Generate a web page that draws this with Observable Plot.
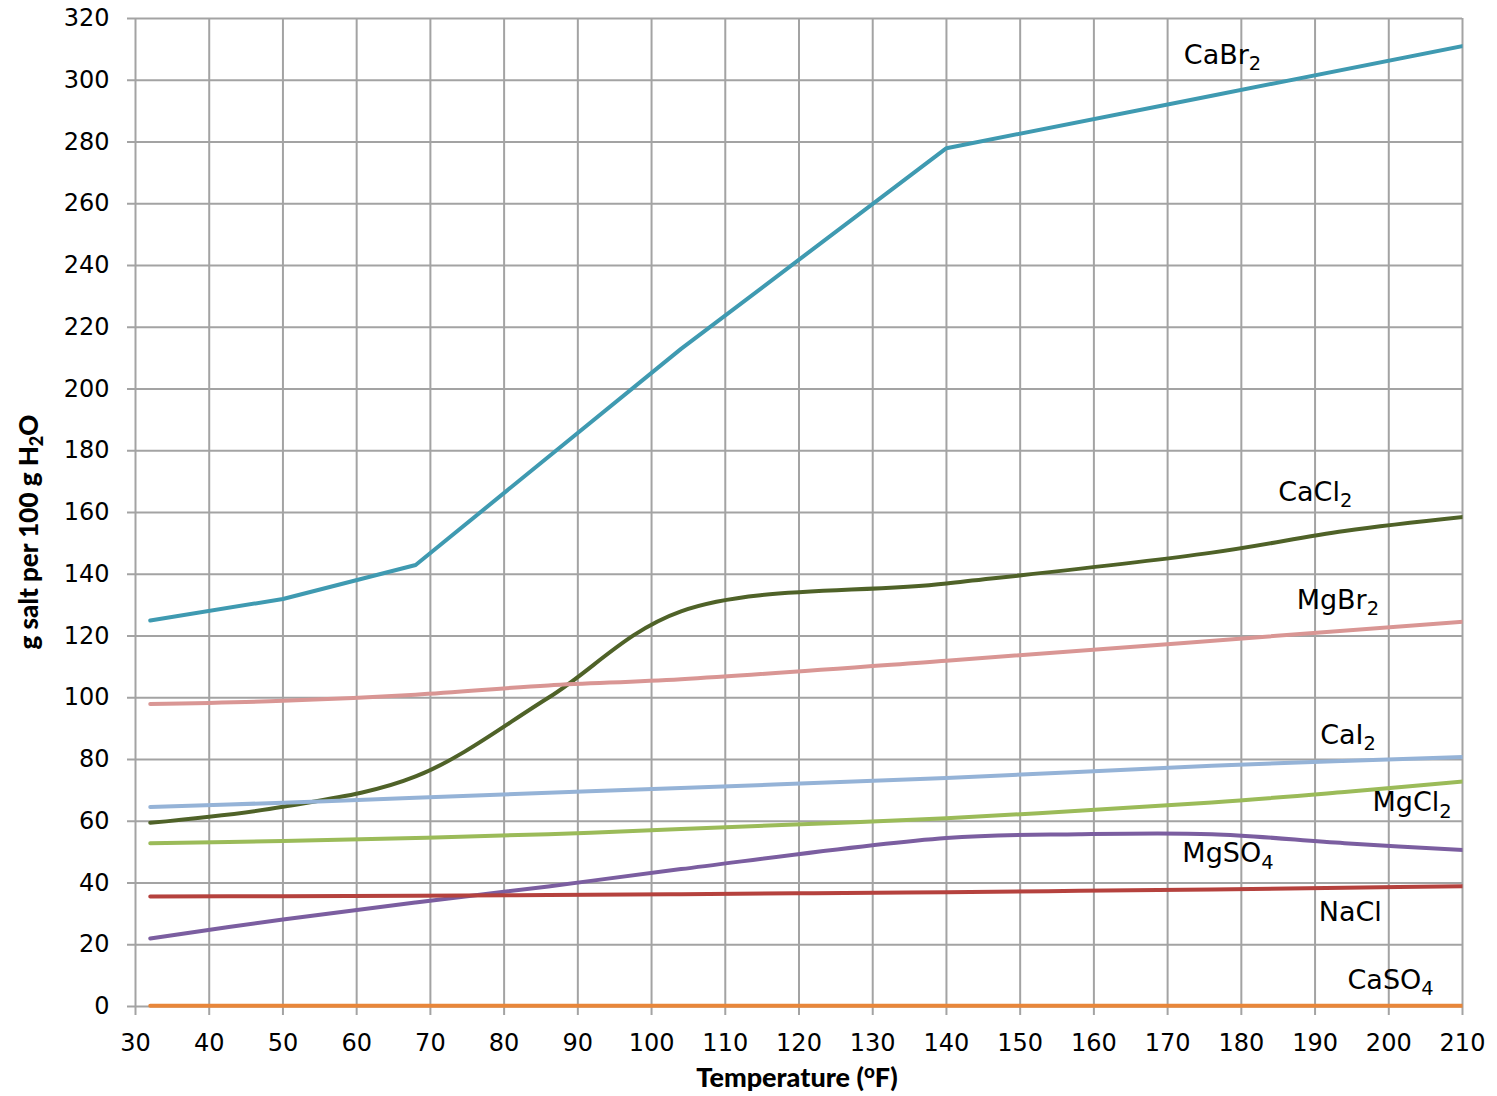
<!DOCTYPE html>
<html>
<head>
<meta charset="utf-8">
<script src="https://cdn.jsdelivr.net/npm/d3@7"></script>
<script src="https://cdn.jsdelivr.net/npm/@observablehq/plot@0.6"></script>
<style>
  body { margin: 0; background: #fff; }
  #chart svg { display: block; }
</style>
</head>
<body>
<div id="chart"></div>
<script>
// Solubility of salts in water (g salt per 100 g H2O), sampled every 10 °C (shown in °F)
const tempsF = [32, 50, 68, 86, 104, 122, 140, 158, 176, 194, 212];

const CaBr2 = [125, 132, 143, null, 213, null, 278, null, 295, null, 312];
const CaCl2 = [59.5, 64.7, 74.5, 100, 128, null, 137, null, 147, 154, 159];
const MgBr2 = [98, 99, 101, 104, 106, null, 112, null, null, null, 125];
const CaI2  = [64.6, 66, 67.6, null, 70.8, null, 74, null, 78, null, 81];
const MgCl2 = [52.9, 53.6, 54.6, 55.8, 57.5, null, 61, null, 66.1, 69.5, 73.3];
const MgSO4 = [22, 28.2, 33.7, 38.9, 44.5, null, 54.6, 55.8, 55.8, 52.9, 50.4];
const NaCl  = [35.65, 35.72, 35.89, 36.09, 36.37, 36.69, 37.04, 37.46, 37.93, 38.47, 38.99];
const CaSO4 = [0.223, 0.244, 0.255, 0.264, 0.265, null, null, null, null, null, 0.205];

const saltNames  = ["CaBr2", "CaCl2", "MgBr2", "CaI2", "MgCl2", "MgSO4", "NaCl", "CaSO4"];
const saltSeries = [CaBr2, CaCl2, MgBr2, CaI2, MgCl2, MgSO4, NaCl, CaSO4];
const saltColors = ["#3f9ab1", "#4f6228", "#d99694", "#95b3d7", "#9bbb59", "#7b5ea0", "#b5423e", "#e8863a"];
// CaBr2 is drawn point to point; the other curves are smoothed
const saltSmooth = [false, true, true, true, true, true, true, true];

// Where each salt's name sits (data units: °F, g per 100 g)
const labelX = [172.2, 185.0, 187.5, 190.7, 197.8, 172.0, 190.5, 194.4];
const labelY = [308, 166.5, 131.5, 87.8, 66, 49.5, 30.4, 8.4];

const xTicks = d3.range(30, 211, 10);
const yTicks = d3.range(0, 321, 20);

const rows = saltNames.flatMap((salt, i) =>
  tempsF.map((t, j) => ({salt, smooth: saltSmooth[i], temp: t, value: saltSeries[i][j]}))
        .filter(d => d.value != null)
);
const labels = saltNames.map((salt, i) => ({salt, x: labelX[i], y: labelY[i]}));

const gridColor = "#a3a3a3";
const tickFont = "'DejaVu Sans', Lato, sans-serif";
const titleFont = "Lato, 'Open Sans', sans-serif";

const chart = Plot.plot({
  width: 1497,
  height: 1096,
  marginLeft: 135,
  marginRight: 35,
  marginTop: 18,
  marginBottom: 90,
  style: {fontFamily: tickFont, fontSize: "24px", color: "#000", background: "#fff"},
  x: {domain: [30, 210], ticks: xTicks},
  y: {domain: [0, 320], ticks: yTicks},
  color: {domain: saltNames, range: saltColors},
  marks: [
    Plot.ruleX(xTicks, {stroke: gridColor, strokeWidth: 2}),
    Plot.ruleY(yTicks, {stroke: gridColor, strokeWidth: 2}),
    Plot.axisX({ticks: xTicks, tickSize: 9, tickPadding: 18, stroke: gridColor, strokeWidth: 2,
                fill: "#000", label: null, fontSize: 24}),
    Plot.axisY({ticks: yTicks, tickSize: 8, tickPadding: 18, stroke: gridColor, strokeWidth: 2,
                fill: "#000", label: null, fontSize: 24}),
    Plot.line(rows.filter(d => !d.smooth), {x: "temp", y: "value", z: "salt", stroke: "salt",
                     strokeWidth: 4, curve: "linear"}),
    Plot.line(rows.filter(d => d.smooth), {x: "temp", y: "value", z: "salt", stroke: "salt",
                     strokeWidth: 4, curve: "catmull-rom"}),
    Plot.text(labels, {x: "x", y: "y", text: "salt", textAnchor: "start", lineAnchor: "middle",
                       fontSize: 27, fill: "#000"})
  ]
});

const svg = d3.select(chart);

// Curves stop at the right edge of the plotting area (but keep full stroke at y = 0)
const clipId = "plot-x-clip";
svg.append("defs").append("clipPath").attr("id", clipId)
  .append("rect").attr("x", 135).attr("y", 0).attr("width", 1462 - 135).attr("height", 1096);
svg.selectAll('g[aria-label="line"]').attr("clip-path", `url(#${clipId})`);

// Chemical formulas: digits are written as subscripts
function writeFormula(sel, s) {
  sel.text(null);
  let shifted = false;
  for (const m of s.matchAll(/(\D+)|(\d+)/g)) {
    const t = sel.append("tspan");
    if (m[2]) {
      t.attr("font-size", "0.72em").attr("dy", shifted ? null : "0.32em").text(m[2]);
      shifted = true;
    } else {
      if (shifted) t.attr("dy", "-0.23em");
      t.text(m[1]);
      shifted = false;
    }
  }
}
const nameSet = new Set(saltNames);
svg.selectAll("text").each(function () {
  if (nameSet.has(this.textContent)) writeFormula(d3.select(this), this.textContent);
});

// Axis titles
const xTitle = svg.append("text")
  .attr("x", 797).attr("y", 1087)
  .attr("text-anchor", "middle")
  .attr("font-family", titleFont).attr("font-weight", 900).attr("font-size", 27);
xTitle.append("tspan").text("Temperature (");
xTitle.append("tspan").attr("font-size", "0.7em").attr("dy", "-0.45em").text("o");
xTitle.append("tspan").attr("dy", "0.32em").text("F)");

const yTitle = svg.append("text")
  .attr("transform", "translate(38,532) rotate(-90)")
  .attr("text-anchor", "middle")
  .attr("font-family", titleFont).attr("font-weight", 900).attr("font-size", 26);
yTitle.append("tspan").text("g salt per 100 g H");
yTitle.append("tspan").attr("font-size", "0.7em").attr("dy", "0.3em").text("2");
yTitle.append("tspan").attr("dy", "-0.21em").text("O");

document.getElementById("chart").append(chart);
</script>
</body>
</html>
